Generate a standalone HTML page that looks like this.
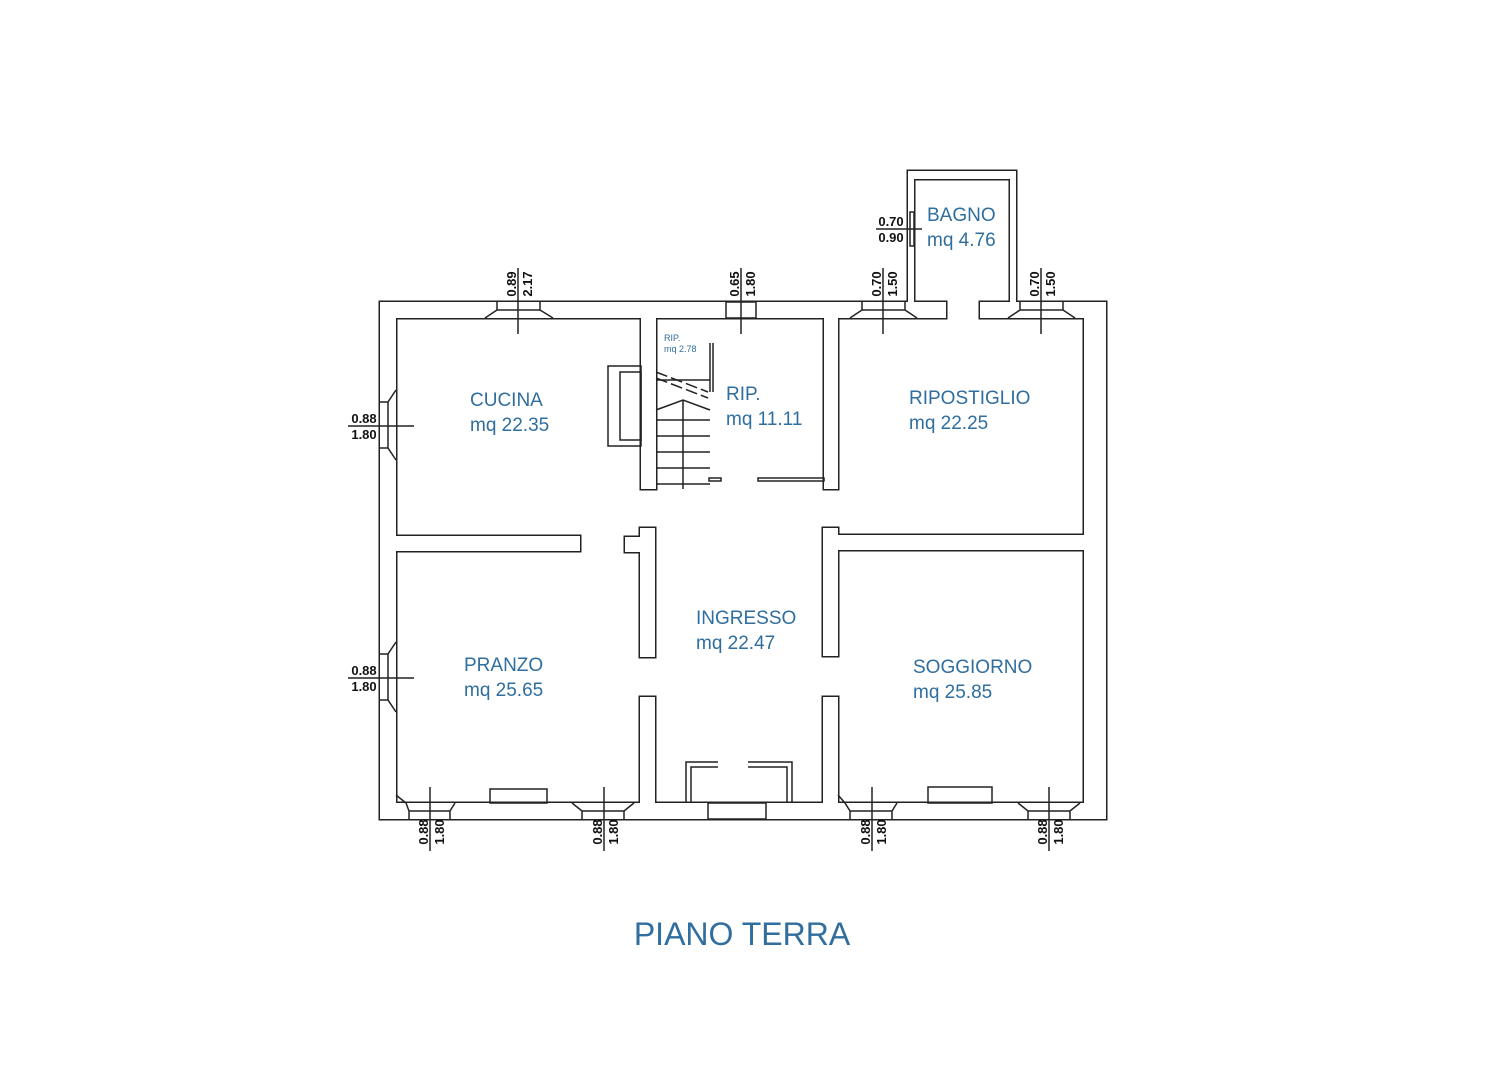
<!DOCTYPE html>
<html><head><meta charset="utf-8"><style>
html,body{margin:0;padding:0;background:#fff}
svg{display:block}
.lbl{font-family:"Liberation Sans",sans-serif;fill:#2f6e9e;font-size:19px}
.d{font-family:"Liberation Sans",sans-serif;font-weight:bold;font-size:13px;fill:#111}
</style></head><body>
<svg width="1500" height="1087" viewBox="0 0 1500 1087" xmlns="http://www.w3.org/2000/svg">
<rect width="1500" height="1087" fill="#fff"/>
<g id="walls">
<g stroke="#222" stroke-width="3" fill="none">
<rect x="380" y="302" width="566" height="16"/>
<rect x="980" y="302" width="126" height="16"/>
<rect x="380" y="302" width="16" height="517"/>
<rect x="380" y="803" width="726" height="16"/>
<rect x="1084" y="302" width="22" height="517"/>
<rect x="396" y="536" width="184" height="15"/>
<rect x="838" y="535" width="246" height="15"/>
<rect x="640" y="528" width="15" height="129"/>
<rect x="625" y="537" width="15" height="15"/>
<rect x="640" y="697" width="15" height="106"/>
<rect x="823" y="528" width="15" height="128"/>
<rect x="823" y="697" width="15" height="106"/>
<rect x="641" y="318" width="15" height="171"/>
<rect x="824" y="318" width="14" height="171"/>
<rect x="908" y="171" width="108" height="8"/>
<rect x="908" y="171" width="6" height="131"/>
<rect x="1010" y="171" width="6" height="131"/>
</g>
<g fill="#fff">
<rect x="380" y="302" width="566" height="16"/>
<rect x="980" y="302" width="126" height="16"/>
<rect x="380" y="302" width="16" height="517"/>
<rect x="380" y="803" width="726" height="16"/>
<rect x="1084" y="302" width="22" height="517"/>
<rect x="396" y="536" width="184" height="15"/>
<rect x="838" y="535" width="246" height="15"/>
<rect x="640" y="528" width="15" height="129"/>
<rect x="625" y="537" width="15" height="15"/>
<rect x="640" y="697" width="15" height="106"/>
<rect x="823" y="528" width="15" height="128"/>
<rect x="823" y="697" width="15" height="106"/>
<rect x="641" y="318" width="15" height="171"/>
<rect x="824" y="318" width="14" height="171"/>
<rect x="908" y="171" width="108" height="8"/>
<rect x="908" y="171" width="6" height="131"/>
<rect x="1010" y="171" width="6" height="131"/>
</g>
</g>
<g stroke="#222" stroke-width="1.5" fill="none">
<!-- windows top -->
<path d="M485,318 L497,310 H540 L553,318 M497,302 V310 M540,302 V310"/>
<rect x="726" y="302" width="30" height="16"/>
<path d="M850,318 L862,310 H905 L917,318 M862,302 V310 M905,302 V310"/>
<path d="M1008,318 L1020,310 H1063 L1075,318 M1020,302 V310 M1063,302 V310"/>
<!-- left windows -->
<path d="M396,390 L388,402 V448 L396,460 M380,402 H388 M380,448 H388"/>
<path d="M396,642 L388,654 V700 L396,712 M380,654 H388 M380,700 H388"/>
<!-- bottom windows -->
<path d="M396,795 L406,803 M406,803 L409,811 H450 L455,803 M409,811 V819 M450,811 V819"/>
<path d="M572,803 L582,811 H624 L634,803 M582,811 V819 M624,811 V819"/>
<path d="M838,795 L845,803 L850,811 H892 L897,803 M850,811 V819 M892,811 V819"/>
<path d="M1018,803 L1028,811 H1070 L1080,803 M1028,811 V819 M1070,811 V819"/>
<rect x="708" y="803" width="58" height="16"/>
<!-- radiators -->
<rect x="490" y="789" width="57" height="14"/>
<rect x="928" y="787" width="64" height="16"/>
<!-- entrance jambs -->
<path d="M686,803 V762 H718 M691,803 V767 H718"/>
<path d="M792,803 V762 H748 M787,803 V767 H748"/>
<!-- bagno window -->
<rect x="910" y="212" width="4" height="34"/>
<!-- stairs -->
<rect x="608" y="366" width="33" height="80"/>
<rect x="620" y="372" width="21" height="68"/>
<line x1="710" y1="343" x2="710" y2="392"/>
<line x1="713" y1="343" x2="713" y2="392"/>
<path d="M656,372 L708,392 M656,378 L708,398" stroke-dasharray="12,4"/>
<path d="M656,380 H710 M656,410 L683,400 L710,410 M656,420 H710 M656,436 H710 M656,452 H710 M656,468 H710 M656,484 H710 M683,400 V489"/>
<rect x="709" y="478" width="12" height="3"/>
<rect x="758" y="478" width="66" height="3"/>
<!-- dim lines -->
<line x1="518" y1="268" x2="518" y2="334"/>
<line x1="741" y1="268" x2="741" y2="334"/>
<line x1="883" y1="268" x2="883" y2="334"/>
<line x1="1041" y1="268" x2="1041" y2="334"/>
<line x1="430" y1="787" x2="430" y2="851"/>
<line x1="604" y1="787" x2="604" y2="851"/>
<line x1="872" y1="787" x2="872" y2="851"/>
<line x1="1049" y1="787" x2="1049" y2="851"/>
<line x1="348" y1="426" x2="414" y2="426"/>
<line x1="348" y1="678" x2="414" y2="678"/>
<line x1="876" y1="229" x2="922" y2="229"/>
</g>
<g class="d">
<text transform="translate(516,284) rotate(-90)" text-anchor="middle">0.89</text>
<text transform="translate(532,284) rotate(-90)" text-anchor="middle">2.17</text>
<text transform="translate(739,284) rotate(-90)" text-anchor="middle">0.65</text>
<text transform="translate(755,284) rotate(-90)" text-anchor="middle">1.80</text>
<text transform="translate(881,284) rotate(-90)" text-anchor="middle">0.70</text>
<text transform="translate(897,284) rotate(-90)" text-anchor="middle">1.50</text>
<text transform="translate(1039,284) rotate(-90)" text-anchor="middle">0.70</text>
<text transform="translate(1055,284) rotate(-90)" text-anchor="middle">1.50</text>
<text transform="translate(428,832) rotate(-90)" text-anchor="middle">0.88</text>
<text transform="translate(444,832) rotate(-90)" text-anchor="middle">1.80</text>
<text transform="translate(602,832) rotate(-90)" text-anchor="middle">0.88</text>
<text transform="translate(618,832) rotate(-90)" text-anchor="middle">1.80</text>
<text transform="translate(870,832) rotate(-90)" text-anchor="middle">0.88</text>
<text transform="translate(886,832) rotate(-90)" text-anchor="middle">1.80</text>
<text transform="translate(1047,832) rotate(-90)" text-anchor="middle">0.88</text>
<text transform="translate(1063,832) rotate(-90)" text-anchor="middle">1.80</text>
<text x="364" y="423" text-anchor="middle">0.88</text>
<text x="364" y="439" text-anchor="middle">1.80</text>
<text x="364" y="675" text-anchor="middle">0.88</text>
<text x="364" y="691" text-anchor="middle">1.80</text>
<text x="891" y="226" text-anchor="middle">0.70</text>
<text x="891" y="242" text-anchor="middle">0.90</text>
</g>
<g class="lbl">
<text x="470" y="406">CUCINA</text><text x="470" y="431">mq 22.35</text>
<text x="726" y="400">RIP.</text><text x="726" y="425">mq 11.11</text>
<text x="664" y="341" style="font-size:9px">RIP.</text><text x="664" y="352" style="font-size:9px">mq 2.78</text>
<text x="909" y="404">RIPOSTIGLIO</text><text x="909" y="429">mq 22.25</text>
<text x="927" y="221">BAGNO</text><text x="927" y="246">mq 4.76</text>
<text x="696" y="624">INGRESSO</text><text x="696" y="649">mq 22.47</text>
<text x="464" y="671">PRANZO</text><text x="464" y="696">mq 25.65</text>
<text x="913" y="673">SOGGIORNO</text><text x="913" y="698">mq 25.85</text>
<text x="742" y="945" text-anchor="middle" style="font-size:32px">PIANO TERRA</text>
</g>
</svg>
</body></html>
